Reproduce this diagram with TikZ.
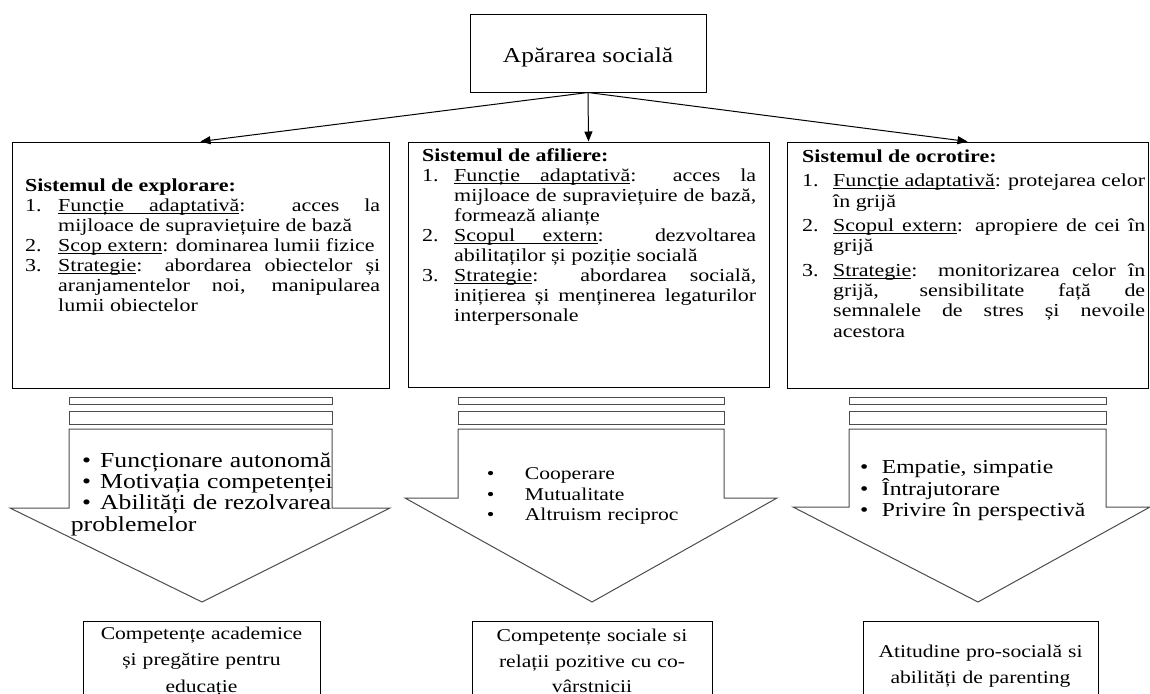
\documentclass[tikz,border=0pt]{standalone}
\usepackage{fontspec}
\setmainfont{Liberation Serif}[FakeStretch=1.2]
\usetikzlibrary{arrows.meta}

\hyphenpenalty=10000
\exhyphenpenalty=10000
\tolerance=10000
\lineskiplimit=-100pt

\newlength\itmind
\newcommand\fstrut{\rule{0pt}{15pt}}
\newcommand\ulw[1]{\setbox0=\hbox{#1}\rlap{\rule[-2.4pt]{\wd0}{0.9pt}}\box0}
\newcommand\ulsp{\leaders\vrule height -1.5pt depth 2.4pt\hskip\fontdimen2\font plus\fontdimen3\font minus\fontdimen4\font\relax}
\newcommand\itm[2]{\par\hangindent=\itmind\hangafter=1\noindent\makebox[\itmind][l]{#1.}#2\par}
\newcommand\blt[1][18pt]{\makebox[#1][l]{•}}

\begin{document}
\begin{tikzpicture}[x=1pt, y=-1pt,
    sysbox/.style={draw, line width=1pt, inner sep=0pt},
    txt/.style={inner sep=0pt, anchor=north west, align=justify, font=\fontsize{18.3}{20}\selectfont},
    bullets/.style={inner sep=0pt, anchor=north west, align=left, text width=300pt},
    outbox/.style={draw, line width=1pt, anchor=north, minimum height=90pt, minimum width=237pt},
    outtxt/.style={inner sep=0pt, anchor=north, align=center, text width=237pt, font=\fontsize{18}{26.5}\selectfont},
    arrowshape/.style={draw=black!70, fill=white, line width=1pt},
    bar/.style={draw=black!70, line width=1pt},
    link/.style={-{Triangle[length=10pt,width=8pt]}, line width=1pt}]
    \useasboundingbox (0,0) rectangle (1150,693);
    \clip (0,0) rectangle (1150,693);

    % top
    \node[sysbox, minimum width=236pt, minimum height=77pt, text height=19pt, text depth=0pt,
          font=\fontsize{21.2}{24}\selectfont] (top) at (588,53.5) {Apărarea socială};

    % three systems
    \node[sysbox, minimum width=377pt, minimum height=246pt] (expl) at (200.5,265) {};
    \node[sysbox, minimum width=361pt, minimum height=245pt] (afil) at (588.5,264.5) {};
    \node[sysbox, minimum width=361pt, minimum height=246pt] (ocrot) at (967.5,265) {};

    \draw[link] (top.south) -- (expl.north);
    \draw[link] (top.south) -- (afil.north);
    \draw[link] (top.south) -- (ocrot.north);

    \node[txt, text width=355pt] (expltxt) at (25,176) {\setlength\itmind{33pt}%
      \noindent\fstrut\textbf{Sistemul de explorare:}
      \itm{1}{\ulw{Funcție}\ulsp\ulw{adaptativă}: acces la\linebreak mijloace de supraviețuire de bază}
      \itm{2}{\ulw{Scop}\ulsp\ulw{extern}: dominarea lumii fizice}
      \itm{3}{\ulw{Strategie}: abordarea obiectelor și\linebreak aranjamentelor noi, manipularea\linebreak lumii obiectelor}};

    \node[txt, text width=334pt] (afiltxt) at (422,146.5) {\setlength\itmind{32pt}%
      \noindent\fstrut\textbf{Sistemul de afiliere:}
      \itm{1}{\ulw{Funcție}\ulsp\ulw{adaptativă}: acces la\linebreak mijloace de supraviețuire de bază,\linebreak formează alianțe}
      \itm{2}{\ulw{Scopul}\ulsp\ulw{extern}: dezvoltarea\linebreak abilitaților și poziție socială}
      \itm{3}{\ulw{Strategie}: abordarea socială,\linebreak inițierea și menținerea legaturilor\linebreak interpersonale}};

    \node[txt, text width=343pt, font=\fontsize{18.3}{20.3}\selectfont] (ocrottxt) at (802,147) {\setlength\itmind{31pt}\setlength\parskip{4.2pt}%
      \noindent\fstrut\textbf{Sistemul de ocrotire:}
      \itm{1}{\ulw{Funcție}\ulsp\ulw{adaptativă}: protejarea celor\linebreak în grijă}
      \itm{2}{\ulw{Scopul}\ulsp\ulw{extern}: apropiere de cei în\linebreak grijă}
      \itm{3}{\ulw{Strategie}: monitorizarea celor în\linebreak grijă, sensibilitate față de\linebreak semnalele de stres și nevoile\linebreak acestora}};

    % block arrows
    \draw[bar] (69,397) rectangle (332,404);
    \draw[bar] (69,411) rectangle (332,424);
    \draw[arrowshape] (69,429) -- (332,429) -- (332,508) -- (390,508) -- (202,602) -- (10,508) -- (69,508) -- cycle;

    \draw[bar] (458,397) rectangle (724,404);
    \draw[bar] (458,411) rectangle (724,424);
    \draw[arrowshape] (458,429) -- (724,429) -- (724,498) -- (777,498) -- (592,602) -- (405,498) -- (458,498) -- cycle;

    \draw[bar] (849,397) rectangle (1106,404);
    \draw[bar] (849,411) rectangle (1106,424);
    \draw[arrowshape] (849,429) -- (1106,429) -- (1106,507) -- (1150,507) -- (978,602) -- (793,507) -- (849,507) -- cycle;

    \node[bullets, font=\fontsize{21.4}{21.3}\selectfont] (expllist) at (70.7,451) {\rule{0pt}{16pt}\hspace*{11.3pt}\blt Funcționare autonomă\\
      \hspace*{11.3pt}\blt Motivația competenței\\
      \hspace*{11.3pt}\blt Abilități de rezolvarea\\
      problemelor};
    \node[bullets, font=\fontsize{18}{20.5}\selectfont] (afillist) at (486.7,463.5) {\rule{0pt}{16pt}\blt[38pt]Cooperare\\
      \blt[38pt]Mutualitate\\
      \blt[38pt]Altruism reciproc};
    \node[bullets, font=\fontsize{19.7}{21.5}\selectfont] (ocrotlist) at (860,457.5) {\rule{0pt}{16pt}\blt[21.7pt]Empatie, simpatie\\
      \blt[21.7pt]Întrajutorare\\
      \blt[21.7pt]Privire în perspectivă};

    % outcomes
    \node[outbox] (acad) at (201.5,621) {};
    \node[outbox, minimum width=240pt] (soc) at (592,621) {};
    \node[outbox, minimum width=235pt] (pros) at (980.5,621) {};

    \node[outtxt] (acadtxt) at (acad.north) [yshift=-3pt] {\fstrut Competențe academice\\și pregătire pentru\\educație};
    \node[outtxt, font=\fontsize{18}{25.5}\selectfont] (soctxt) at (soc.north) [yshift=-5.5pt] {\fstrut Competențe sociale si\\relații pozitive cu co-\\vârstnicii};
    \node[outtxt] (prostxt) at (pros.north) [yshift=-21pt] {\fstrut Atitudine pro-socială si\\abilități de parenting};
\end{tikzpicture}
\end{document}
